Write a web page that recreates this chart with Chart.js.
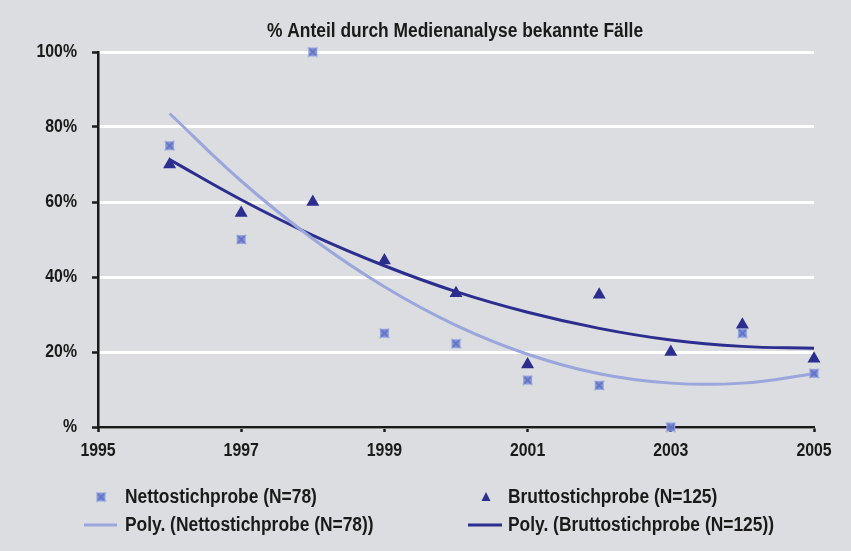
<!DOCTYPE html>
<html><head><meta charset="utf-8">
<script src="https://cdn.jsdelivr.net/npm/chart.js@4/dist/chart.umd.min.js"></script>
<style>html,body{margin:0;padding:0;background:#dcdde0;}#wrap{width:851px;height:551px;}</style>
</head><body><div id="wrap"><canvas id="c" width="851" height="551"></canvas></div>
<script>
const titleText = '% Anteil durch Medienanalyse bekannte Fälle';
const years = [1996,1997,1998,1999,2000,2001,2002,2003,2004,2005];
const netto = [75,50,100,25,22.2,12.5,11.1,0,25,14.3];
const brutto = [70,57.1,60,44.4,35.7,16.7,35.3,20,27.3,18.2];
const polyNetto = [83.6,65.6,50.2,37.4,27.1,19.4,14.2,11.7,11.7,14.2];
const polyBrutto = [71.3,60.6,51.1,43.0,36.1,30.6,26.3,23.2,21.5,21.0];
const xTickValues = [1995,1997,1999,2001,2003,2005];
const yTickValues = [0,20,40,60,80,100];
const yTickLabels = ['%','20%','40%','60%','80%','100%'];
const labels = ['Nettostichprobe (N=78)','Bruttostichprobe (N=125)','Poly. (Nettostichprobe (N=78))','Poly. (Bruttostichprobe (N=125))'];

const FONT = '"Liberation Sans",Arial,sans-serif';
const cLight = '#9aa6dc', cDark = '#2b2e8e', cText = '#1a1a1a';

function makeMark(){
  const s = 11, cv = document.createElement('canvas'); cv.width = s; cv.height = s;
  const g = cv.getContext('2d');
  g.fillStyle = 'rgba(118,134,210,0.85)'; g.fillRect(1,1,s-2,s-2);
  g.strokeStyle = '#5d6fc4'; g.lineWidth = 1.6;
  g.beginPath(); g.moveTo(1,1); g.lineTo(s-1,s-1); g.moveTo(s-1,1); g.lineTo(1,s-1); g.stroke();
  g.strokeStyle = 'rgba(150,165,225,0.9)'; g.lineWidth = 1; g.strokeRect(1.5,1.5,s-3,s-3);
  return cv;
}
const markImg = makeMark();
const pts = (arr) => years.map((y,i)=>({x:y,y:arr[i]}));

function narrowText(c, text, x, y, align, size, sx){
  c.save(); c.font = 'bold '+size+'px '+FONT; c.translate(x, y); c.scale(sx, 1);
  c.textAlign = align; c.textBaseline = 'middle';
  c.fillText(text, 0, 0); c.restore();
}

const bgPlugin = {
  id:'bg',
  beforeDraw(chart){ const c=chart.ctx; c.save(); c.fillStyle='#dcdde0'; c.fillRect(0,0,chart.width,chart.height); c.restore(); },
  afterDraw(chart){
    const c = chart.ctx, a = chart.chartArea, xs = chart.scales.x, ys = chart.scales.y;
    c.save();
    c.fillStyle = cText;
    narrowText(c, titleText, (a.left+a.right)/2 - 1, 31, 'center', 20, 0.87);
    // tick labels
    xTickValues.forEach(v => narrowText(c, String(v), xs.getPixelForValue(v), a.bottom+24, 'center', 18, 0.88));
    yTickValues.forEach((v,i) => narrowText(c, yTickLabels[i], a.left-21, ys.getPixelForValue(v), 'right', 18, 0.88));
    // legend
    const rows=[497,525], cols=[125,508];
    c.drawImage(markImg, 101-5.5, rows[0]-5.5);
    narrowText(c, labels[0], cols[0], rows[0], 'left', 20, 0.87);
    c.fillStyle = cDark; c.beginPath(); c.moveTo(486, rows[0]-5); c.lineTo(490.5, rows[0]+4); c.lineTo(481.5, rows[0]+4); c.closePath(); c.fill();
    c.fillStyle = cText; narrowText(c, labels[1], cols[1], rows[0], 'left', 20, 0.87);
    c.lineWidth = 3;
    c.strokeStyle = cLight; c.beginPath(); c.moveTo(84, rows[1]); c.lineTo(117, rows[1]); c.stroke();
    narrowText(c, labels[2], cols[0], rows[1], 'left', 20, 0.87);
    c.strokeStyle = cDark; c.beginPath(); c.moveTo(468, rows[1]); c.lineTo(502, rows[1]); c.stroke();
    narrowText(c, labels[3], cols[1], rows[1], 'left', 20, 0.87);
    c.restore();
  }
};

new Chart(document.getElementById('c'), {
  type:'scatter',
  data:{ datasets:[
    {label:labels[0], data:pts(netto), pointStyle:markImg, pointRadius:6, showLine:false, clip:false},
    {label:labels[1], data:pts(brutto), pointStyle:'triangle', pointRadius:7.5, backgroundColor:cDark, borderColor:cDark, borderWidth:0, showLine:false, clip:false},
    {label:labels[2], data:pts(polyNetto), showLine:true, pointRadius:0, borderColor:cLight, borderWidth:3, tension:0.4, fill:false},
    {label:labels[3], data:pts(polyBrutto), showLine:true, pointRadius:0, borderColor:cDark, borderWidth:3, tension:0.4, fill:false}
  ]},
  options:{
    responsive:false, animation:false, devicePixelRatio:1,
    layout:{padding:{left:0, top:52, right:37, bottom:0}},
    plugins:{legend:{display:false}, tooltip:{enabled:false}, title:{display:false}},
    scales:{
      x:{ type:'linear', min:1995, max:2005,
        afterBuildTicks(s){ s.ticks = xTickValues.map(v=>({value:v})); },
        afterFit(s){ s.height = 124; },
        grid:{ drawOnChartArea:false, drawTicks:true, tickLength:5, tickColor:cText, tickWidth:2.5 },
        border:{ display:true, color:cText, width:2.5 },
        ticks:{ display:true, color:'rgba(0,0,0,0)', font:{family:FONT, size:18, weight:'bold'}, padding:6, maxRotation:0, autoSkip:false, callback:(v)=>String(v) }
      },
      y:{ min:0, max:100,
        afterBuildTicks(s){ s.ticks = yTickValues.map(v=>({value:v})); },
        afterFit(s){ s.width = 98; },
        grid:{ color:'#ffffff', lineWidth:3, drawTicks:true, tickLength:6, tickColor:cText, tickWidth:2.5 },
        border:{ display:true, color:cText, width:2.5 },
        ticks:{ display:true, color:'rgba(0,0,0,0)', font:{family:FONT, size:18, weight:'bold'}, padding:15, callback:(v)=> v===0 ? '%' : v+'%' }
      }
    }
  },
  plugins:[bgPlugin]
});
</script></body></html>
